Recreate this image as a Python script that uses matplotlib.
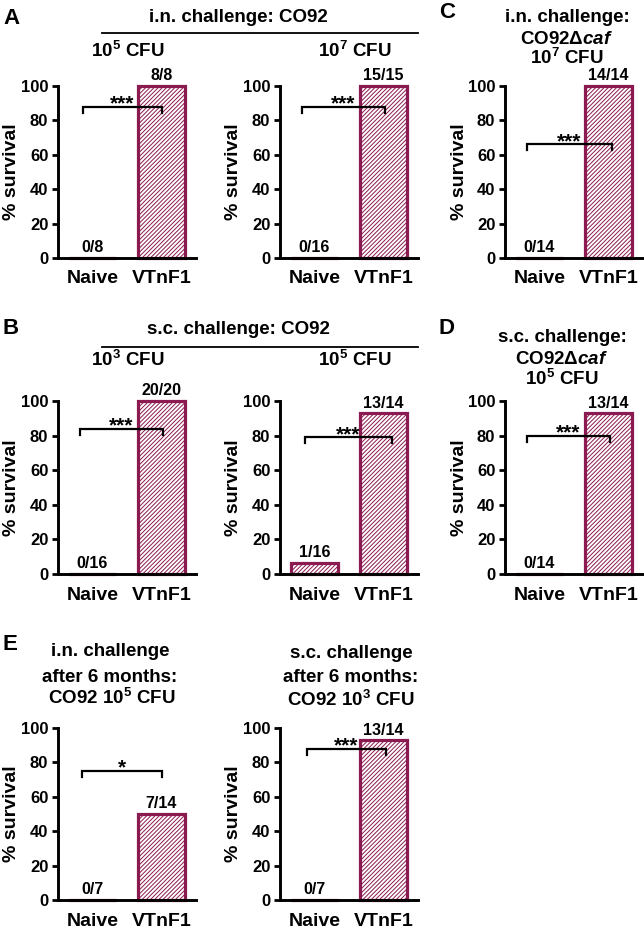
import matplotlib
matplotlib.use('Agg')
import matplotlib.pyplot as plt
from matplotlib.lines import Line2D

MAROON = '#8a1a4f'
plt.rcParams['font.family'] = ['Liberation Sans', 'DejaVu Sans']
plt.rcParams['font.weight'] = 'bold'
plt.rcParams['mathtext.fontset'] = 'custom'
plt.rcParams['mathtext.rm'] = 'Liberation Sans:bold'
plt.rcParams['mathtext.bf'] = 'Liberation Sans:bold'
plt.rcParams['mathtext.it'] = 'Liberation Sans:italic:bold'
plt.rcParams['hatch.linewidth'] = 0.7

# ---------------- data ----------------
groups = ['Naive', 'VTnF1']
panel_ids = ['A1', 'A2', 'C', 'B1', 'B2', 'D', 'E1', 'E2']
survival = {
    'A1': [0, 100],
    'A2': [0, 100],
    'C':  [0, 100],
    'B1': [0, 100],
    'B2': [6.25, 92.86],
    'D':  [0, 92.86],
    'E1': [0, 50],
    'E2': [0, 92.86],
}
counts = {
    'A1': ['0/8', '8/8'],
    'A2': ['0/16', '15/15'],
    'C':  ['0/14', '14/14'],
    'B1': ['0/16', '20/20'],
    'B2': ['1/16', '13/14'],
    'D':  ['0/14', '13/14'],
    'E1': ['0/7', '7/14'],
    'E2': ['0/7', '13/14'],
}
sig_text = {'A1': '***', 'A2': '***', 'C': '***', 'B1': '***',
            'B2': '***', 'D': '***', 'E1': '*', 'E2': '***'}
sig_level = {'A1': 88, 'A2': 88, 'C': 66, 'B1': 84,
             'B2': 79, 'D': 80, 'E1': 75, 'E2': 88}
sig_span = {'A1': (-0.14, 1.0), 'A2': (-0.18, 1.02), 'C': (-0.18, 1.05),
            'B1': (-0.18, 1.02), 'B2': (-0.14, 1.12), 'D': (-0.18, 1.02),
            'E1': (-0.15, 1.0), 'E2': (-0.11, 1.04)}
yticks = [0, 20, 40, 60, 80, 100]

# ---------------- layout (pixels) ----------------
W, H = 644, 932
fig = plt.figure(figsize=(W / 100, H / 100), dpi=100)
fig.patch.set_facecolor('white')

col_x = {'A1': 58, 'A2': 280, 'C': 505, 'B1': 58, 'B2': 280, 'D': 505,
         'E1': 58, 'E2': 280}
row_y = {'A1': (86, 258), 'A2': (86, 258), 'C': (86, 258),
         'B1': (401, 574), 'B2': (401, 574), 'D': (401, 574),
         'E1': (728, 900), 'E2': (728, 900)}
AXW = 138


def ftext(x, y, s, **kw):
    kw.setdefault('ha', 'center')
    kw.setdefault('va', 'center')
    kw.setdefault('fontweight', 'bold')
    return fig.text(x / W, 1 - y / H, s, **kw)


def hline(x0, x1, y, lw=1.3):
    fig.add_artist(Line2D([x0 / W, x1 / W], [1 - y / H, 1 - y / H],
                          color='black', lw=lw, transform=fig.transFigure))


for pid in panel_ids:
    x0 = col_x[pid]
    ytop, ybot = row_y[pid]
    ax = fig.add_axes([x0 / W, 1 - ybot / H, AXW / W, (ybot - ytop) / H])
    vals = survival[pid]
    xs = list(range(len(groups)))
    ax.bar(xs, vals, width=0.68, facecolor='white', edgecolor=MAROON,
           hatch='////////', linewidth=2.3, clip_on=False, zorder=2)
    for xi, v, c in zip(xs, vals, counts[pid]):
        ax.annotate(c, (xi, v), xytext=(0, 2), textcoords='offset points',
                    ha='center', va='bottom', fontsize=11.5,
                    fontweight='bold', annotation_clip=False)
    # significance bracket
    lvl = sig_level[pid]
    a, b = sig_span[pid]
    ax.plot([a, a, b, b], [lvl - 3.5, lvl, lvl, lvl - 3.5], color='black',
            lw=1.6, clip_on=False, zorder=4, solid_joinstyle='miter')
    ax.text((a + b) / 2, lvl - 1.5, sig_text[pid], ha='center',
            va='baseline', fontsize=15, fontweight='bold', zorder=5)

    ax.set_xlim(-0.5, 1.5)
    ax.set_ylim(0, 100)
    ax.set_yticks(yticks)
    ax.set_yticklabels([str(t) for t in yticks], fontsize=12,
                       fontweight='bold')
    ax.set_xticks(xs)
    ax.set_xticklabels(groups, fontsize=14, fontweight='bold')
    ax.tick_params(axis='y', length=4, width=2.0, pad=3)
    ax.tick_params(axis='x', length=0, pad=9)
    for s in ['top', 'right']:
        ax.spines[s].set_visible(False)
    for s in ['left', 'bottom']:
        ax.spines[s].set_linewidth(2.1)
    ax.set_facecolor('none')
    # y label
    ftext(x0 - 46, (ytop + ybot) / 2, '% survival', rotation=90,
          fontsize=14)

TS = 13.5
# ---- panel A headers ----
ftext(3, 18, 'A', ha='left', fontsize=16)
ftext(238, 18, 'i.n. challenge: CO92', fontsize=TS)
hline(102, 418, 33)
ftext(128, 51, r'$\mathbf{10^{5}}$ CFU', fontsize=TS)
ftext(355, 51, r'$\mathbf{10^{7}}$ CFU', fontsize=TS)

# ---- panel B headers ----
ftext(3, 328, 'B', ha='left', fontsize=16)
ftext(238, 330, 's.c. challenge: CO92', fontsize=TS)
hline(102, 418, 347)
ftext(128, 360, r'$\mathbf{10^{3}}$ CFU', fontsize=TS)
ftext(355, 360, r'$\mathbf{10^{5}}$ CFU', fontsize=TS)

# ---- panel C headers ----
ftext(439, 13, 'C', ha='left', fontsize=16)
ftext(567, 17, 'i.n. challenge:', fontsize=TS)
ftext(567, 39, r'CO92Δ$\mathit{caf}$', fontsize=TS)
ftext(567, 58, r'$\mathbf{10^{7}}$ CFU', fontsize=TS)

# ---- panel D headers ----
ftext(439, 328, 'D', ha='left', fontsize=16)
ftext(562, 337, 's.c. challenge:', fontsize=TS)
ftext(562, 359, r'CO92Δ$\mathit{caf}$', fontsize=TS)
ftext(562, 379, r'$\mathbf{10^{5}}$ CFU', fontsize=TS)

# ---- panel E headers ----
ftext(3, 645, 'E', ha='left', fontsize=16)
ftext(110, 652, 'i.n. challenge', fontsize=TS)
ftext(110, 677, 'after 6 months:', fontsize=TS)
ftext(112, 698, r'CO92 $\mathbf{10^{5}}$ CFU', fontsize=TS)
ftext(351, 653, 's.c. challenge', fontsize=TS)
ftext(351, 678, 'after 6 months:', fontsize=TS)
ftext(351, 700, r'CO92 $\mathbf{10^{3}}$ CFU', fontsize=TS)

fig.savefig('out.png', dpi=100, facecolor='white')
